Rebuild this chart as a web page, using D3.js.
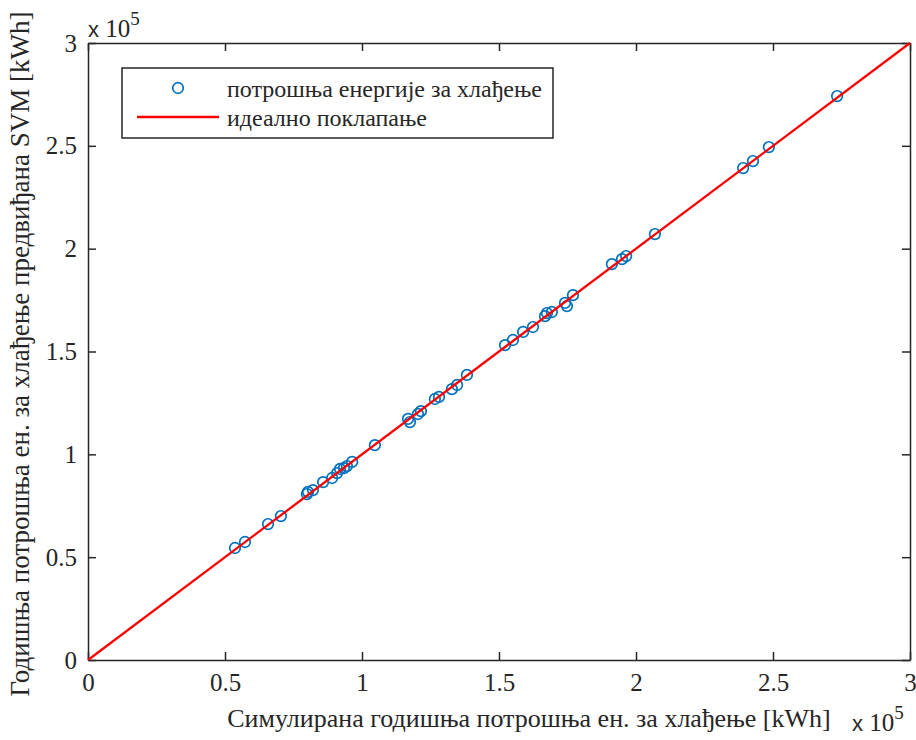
<!DOCTYPE html>
<html>
<head>
<meta charset="utf-8">
<script src="https://cdn.jsdelivr.net/npm/d3@7"></script>
<style>
  html, body { margin: 0; padding: 0; background: #fff; }
  svg { display: block; }
  text { font-family: "Liberation Serif", "Times New Roman", serif; fill: #262626; }
</style>
</head>
<body>
<script>
// Data (kWh)
const simulated = [53650, 57300, 65700, 70400, 79900, 80300, 82100, 85800, 89100, 90900,
  92000, 93400, 94500, 96400, 104700, 116800, 117500, 120400, 121500, 126600,
  128100, 132800, 134700, 138300, 152200, 155100, 158800, 162400, 166800, 167500,
  169300, 174100, 174800, 177000, 191200, 194900, 196400, 206900, 239100, 242700,
  248500, 273400];
const predicted = [54450, 57370, 66100, 70000, 80700, 81700, 82600, 86500, 88500, 90900,
  92900, 93300, 94300, 96300, 104500, 117200, 115700, 119600, 121000, 126900,
  127900, 131700, 133700, 138600, 153100, 155600, 159500, 161900, 167200, 168700,
  169200, 173600, 172100, 177400, 192500, 194900, 196400, 207100, 239200, 242600,
  249400, 274200];
const idealLine = [0, 300000];
const tickValues = [0, 50000, 100000, 150000, 200000, 250000, 300000];
const tickLabels = ["0", "0.5", "1", "1.5", "2", "2.5", "3"];
const seriesNames = ["потрошња енергије за хлађење", "идеално поклапање"];
const xTitle = "Симулирана годишња потрошња ен. за хлађење [kWh]";
const yTitle = "Годишња потрошња ен. за хлађење предвиђана SVM [kWh]";

const W = 916, H = 740;
const m = { left: 88, top: 43, right: 6, bottom: 80 };
const iw = W - m.left - m.right, ih = H - m.top - m.bottom;
const axisColor = "#262626";
const blue = "#0072BD";

const svg = d3.select("body").append("svg").attr("width", W).attr("height", H);
const g = svg.append("g").attr("transform", `translate(${m.left},${m.top})`);

const x = d3.scaleLinear().domain([0, 300000]).range([0, iw]);
const y = d3.scaleLinear().domain([0, 300000]).range([ih, 0]);

const fmt = (d, i) => tickLabels[i];
const tickLen = 8;

// Axes
const xAxis = g.append("g").attr("transform", `translate(0,${ih})`)
  .call(d3.axisBottom(x).tickValues(tickValues).tickFormat(fmt).tickSizeInner(-tickLen).tickSizeOuter(0).tickPadding(13));
const yAxis = g.append("g")
  .call(d3.axisLeft(y).tickValues(tickValues).tickFormat(fmt).tickSizeInner(-tickLen).tickSizeOuter(0).tickPadding(11));
const xTop = g.append("g")
  .call(d3.axisTop(x).tickValues(tickValues).tickFormat("").tickSizeInner(-tickLen).tickSizeOuter(0));
const yRight = g.append("g").attr("transform", `translate(${iw},0)`)
  .call(d3.axisRight(y).tickValues(tickValues).tickFormat("").tickSizeInner(-tickLen).tickSizeOuter(0));

[xAxis, yAxis, xTop, yRight].forEach(a => {
  a.selectAll("path.domain").attr("stroke", axisColor).attr("stroke-width", 1.5);
  a.selectAll(".tick line").attr("stroke", axisColor).attr("stroke-width", 1.5);
  a.selectAll(".tick text").style("font-family", "Liberation Serif, serif").style("font-size", "25px").attr("fill", axisColor);
});

// Points
g.selectAll("circle.pt").data(simulated.map((d, i) => [d, predicted[i]]))
  .enter().append("circle").attr("class", "pt")
  .attr("cx", d => x(d[0])).attr("cy", d => y(d[1])).attr("r", 5.3)
  .attr("fill", "none").attr("stroke", blue).attr("stroke-width", 1.7);

// Ideal line (drawn over the points)
g.append("line")
  .attr("x1", x(idealLine[0])).attr("y1", y(idealLine[0]))
  .attr("x2", x(idealLine[1])).attr("y2", y(idealLine[1]))
  .attr("stroke", "#FF0000").attr("stroke-width", 2.3);

// Exponent labels
function expLabel(px, py) {
  const t = svg.append("text").attr("x", px).attr("y", py).style("font-size", "25px");
  t.append("tspan").text("x ").style("font-family", "Liberation Sans, Arial, sans-serif").style("font-size", "22px");
  t.append("tspan").text("10");
  t.append("tspan").text("5").attr("dy", -12).style("font-size", "19px");
}
expLabel(88, 37);
expLabel(852, 731);

// Axis titles
svg.append("text").attr("x", 529).attr("y", 727).attr("text-anchor", "middle")
  .style("font-size", "26px").text(xTitle);
svg.append("text").attr("transform", `translate(29,${354}) rotate(-90)`).attr("text-anchor", "middle")
  .style("font-size", "27px").text(yTitle);

// Legend
const lg = svg.append("g");
lg.append("rect").attr("x", 122).attr("y", 68).attr("width", 431).attr("height", 70)
  .attr("fill", "#fff").attr("stroke", axisColor).attr("stroke-width", 1.5);
lg.append("circle").attr("cx", 178).attr("cy", 88).attr("r", 5.3)
  .attr("fill", "none").attr("stroke", blue).attr("stroke-width", 1.7);
lg.append("line").attr("x1", 137).attr("x2", 219).attr("y1", 117).attr("y2", 117)
  .attr("stroke", "#FF0000").attr("stroke-width", 2.3);
lg.append("text").attr("x", 227).attr("y", 97).style("font-size", "24px").text(seriesNames[0]);
lg.append("text").attr("x", 227).attr("y", 126).style("font-size", "24px").text(seriesNames[1]);
</script>
</body>
</html>
